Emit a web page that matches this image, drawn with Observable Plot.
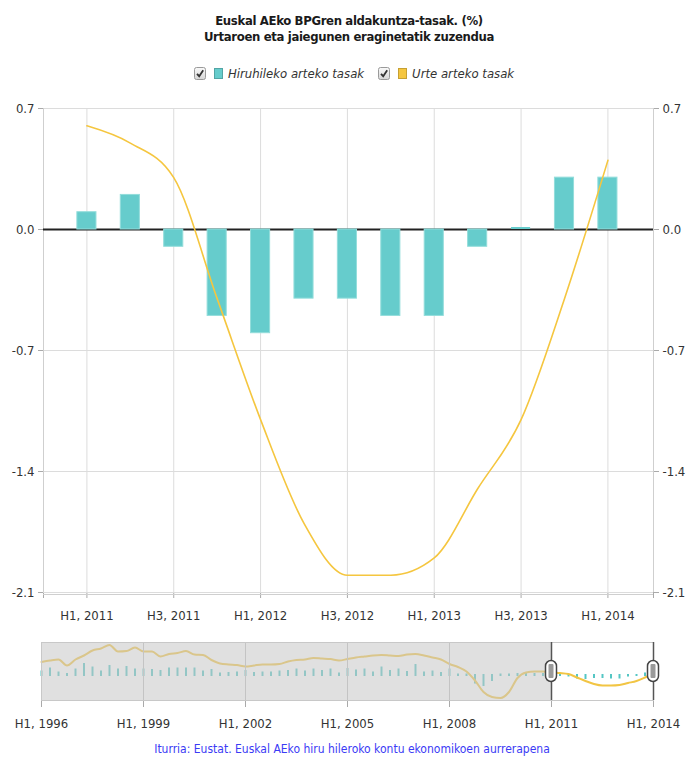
<!DOCTYPE html>
<html>
<head>
<meta charset="utf-8">
<script src="https://cdn.jsdelivr.net/npm/d3@7"></script>
<script src="https://cdn.jsdelivr.net/npm/@observablehq/plot@0.6"></script>
<style>
  html, body { margin: 0; padding: 0; background: #fff; }
  body { width: 688px; height: 758px; overflow: hidden; position: relative;
         font-family: "DejaVu Sans Condensed", "DejaVu Sans", sans-serif; font-stretch: condensed; }
  #header { position: relative; height: 90px; }
  .title { position: absolute; left: 43px; width: 612px; text-align: center; font-weight: bold;
           font-size: 13px; line-height: 16px; color: #1a1a1a; white-space: nowrap; letter-spacing: -0.35px; }
  #legend { position: absolute; top: 66px; left: 0; width: 708px; display: flex; justify-content: center;
            align-items: center; font-size: 13px; font-style: italic; color: #333; }
  .item { display: flex; align-items: center; margin: 0 7px; }
  .cb { margin-right: 8px; }
  .sw { width: 9px; height: 11px; margin-right: 5px; box-sizing: border-box; }
  #main svg, #nav svg { display: block; }
  #caption { position: absolute; top: 742px; left: 43px; width: 618px; text-align: center;
             font-size: 12px; line-height: 14px; color: #3b3bf5; white-space: nowrap; }
  svg [aria-label$="tick"] { stroke: #aaaaaa; }
</style>
</head>
<body>
<div id="header">
  <div class="title" id="t1" style="top:13px"></div>
  <div class="title" id="t2" style="top:29px"></div>
  <div id="legend"></div>
</div>
<div id="main"></div>
<div id="nav"></div>
<div id="caption"></div>
<script>
// ---------- DATA ----------
const titleLines = ["Euskal AEko BPGren aldakuntza-tasak. (%)", "Urtaroen eta jaiegunen eraginetatik zuzendua"];
const seriesNames = ["Hiruhileko arteko tasak", "Urte arteko tasak"];
const seriesColors = ["#66cccc", "#f5c63f"];
const caption = "Iturria: Eustat. Euskal AEko hiru hileroko kontu ekonomikoen aurrerapena";

// Main chart: quarters H1 2011 .. H1 2014
const quarters = ["H1, 2011","H2, 2011","H3, 2011","H4, 2011","H1, 2012","H2, 2012","H3, 2012",
                  "H4, 2012","H1, 2013","H2, 2013","H3, 2013","H4, 2013","H1, 2014"];
const quarterlyRate = [0.1, 0.2, -0.1, -0.5, -0.6, -0.4, -0.4, -0.5, -0.5, -0.1, 0.0, 0.3, 0.3];
const annualRate    = [0.6, 0.5, 0.3, -0.4, -1.1, -1.7, -2.0, -2.0, -1.9, -1.5, -1.1, -0.4, 0.4];
const yTicks = [0.7, 0.0, -0.7, -1.4, -2.1];
const yDomain = [-2.1, 0.7];

// Navigator history: quarters H1 1996 .. H4 2010
const histAnnual = [2.7, 3.0, 3.2, 2.0, 3.2, 4.0, 5.0, 5.4, 6.1, 4.8, 4.9, 5.6,
                    4.8, 4.8, 3.8, 4.3, 4.5, 4.9, 4.2, 4.1, 3.1, 2.4, 2.2, 2.1,
                    1.8, 2.0, 2.2, 2.2, 2.3, 2.8, 3.1, 3.2, 3.5, 3.4, 3.3, 3.0,
                    3.3, 3.6, 3.8, 4.0, 4.1, 4.0, 3.9, 4.2, 4.3, 4.0, 3.6, 3.2,
                    2.3, 1.7, 0.8, -1.0, -3.3, -4.3, -4.5, -3.3, -0.5, 0.6, 0.8, 0.8];
const histQuarterly = [0.7, 1.3, 0.5, 0.2, 1.1, 2.2, 1.5, 0.7, 1.8, 1.1, 1.6, 1.1,
                       1.1, 1.0, 0.8, 1.3, 1.3, 1.3, 1.3, 0.7, 1.0, 0.3, 0.4, 0.5,
                       0.8, 0.4, 0.5, 0.5, 0.7, 0.8, 1.1, 0.7, 1.1, 0.8, 1.1, 0.3,
                       1.2, 0.9, 1.1, 0.5, 1.5, 0.8, 1.1, 0.6, 2.0, 0.5, 0.7, 0.4,
                       1.1, 0.1, 0.1, -1.5, -2.0, -1.0, 0.1, 0.1, 0.2, 0.2, 0.2, 0.2];
const navTickLabels = ["H1, 1996","H1, 1999","H1, 2002","H1, 2005","H1, 2008","H1, 2011","H1, 2014"];
const navYDomain = [-5, 6.6];

// ---------- HEADER ----------
document.getElementById("t1").textContent = titleLines[0];
document.getElementById("t2").textContent = titleLines[1];
const legend = document.getElementById("legend");
seriesNames.forEach((name, k) => {
  const it = document.createElement("div");
  it.className = "item";
  it.innerHTML =
    `<svg class="cb" width="12" height="13" viewBox="0 0 12 13">
       <defs><linearGradient id="g${k}" x1="0" y1="0" x2="0" y2="1">
         <stop offset="0" stop-color="#fafafa"/><stop offset="1" stop-color="#d6d6d6"/></linearGradient></defs>
       <rect x="0.5" y="0.5" width="11" height="12" rx="2" fill="url(#g${k})" stroke="#9a9a9a"/>
       <path d="M3 6.8 L5.2 9.2 L9.2 3.3" fill="none" stroke="#333" stroke-width="1.8"/>
     </svg>
     <div class="sw" style="background:${seriesColors[k]};border:1px solid ${d3.color(seriesColors[k]).darker(0.6)}"></div>
     <span>${name}</span>`;
  legend.appendChild(it);
});
document.getElementById("caption").textContent = caption;

// ---------- MAIN CHART ----------
const data = quarters.map((q, i) => ({i, label: q, q: quarterlyRate[i], a: annualRate[i]}));
const labelIdx = d3.range(0, quarters.length, 2);
const font = '"DejaVu Sans Condensed", "DejaVu Sans", sans-serif';

const main = Plot.plot({
  width: 688, height: 540,
  marginTop: 18, marginBottom: 38, marginLeft: 43, marginRight: 35,
  style: {fontFamily: font, fontSize: "13px", color: "#333", background: "transparent", overflow: "visible"},
  x: {domain: [-1, quarters.length + 0.05], ticks: [-1, ...labelIdx, quarters.length + 0.05],
      tickFormat: i => quarters[i] ?? "", tickSize: 6, tickPadding: 12, label: null},
  y: {domain: yDomain, axis: "both", ticks: yTicks, tickFormat: d => d.toFixed(1),
      tickSize: 5, tickPadding: 4, label: null},
  marks: [
    Plot.ruleY(yTicks, {stroke: "#dcdcdc"}),
    Plot.ruleX(labelIdx, {stroke: "#dcdcdc"}),
    Plot.ruleX([-1, quarters.length + 0.05], {stroke: "#cfcfcf"}),
    Plot.ruleY([yDomain[0]], {stroke: "#cfcfcf", dy: 2}),
    Plot.ruleY([0], {stroke: "#222", strokeWidth: 2}),
    Plot.rectY(data, {x1: d => d.i - 0.22, x2: d => d.i + 0.22, y1: 0, y2: "q",
                      fill: seriesColors[0], stroke: "#93dddb", strokeWidth: 1,
                      dy: d => (d.q > 0 ? -1 : 1)}),
    // bars whose value is exactly zero still show as a thin strip on the zero line
    Plot.ruleY(data.filter(d => d.q === 0), {x1: d => d.i - 0.22, x2: d => d.i + 0.22, y: "q",
                      stroke: seriesColors[0], strokeWidth: 2, dy: -1.5}),
    Plot.line(data, {x: "i", y: "a", stroke: seriesColors[1], strokeWidth: 1.6, curve: "monotone-x"})
  ]
});
document.getElementById("main").appendChild(main);

// ---------- NAVIGATOR ----------
const navAnnual = histAnnual.concat(annualRate);
const navQuarterly = histQuarterly.concat(quarterlyRate);
const navData = navAnnual.map((a, i) => ({i, a, q: navQuarterly[i]}));
const nLast = navData.length - 1;
const selStart = histAnnual.length;           // H1, 2011
const navTickIdx = navTickLabels.map((_, k) => k * 12);

const handles = (index, scales, values, dims) => {
  const g = d3.create("svg:g");
  const cy = (dims.marginTop + dims.height - dims.marginBottom) / 2;
  [selStart, nLast].forEach(v => {
    const cx = scales.x(v);
    g.append("rect").attr("x", cx - 5.5).attr("y", cy - 10.5).attr("width", 11).attr("height", 21)
      .attr("rx", 5.5).attr("fill", "#fff").attr("stroke", "#444").attr("stroke-width", 1.5);
    g.append("rect").attr("x", cx - 2.5).attr("y", cy - 7).attr("width", 5).attr("height", 14)
      .attr("rx", 1).attr("fill", "#9a9a9a");
  });
  return g.node();
};

const nav = Plot.plot({
  width: 688, height: 105,
  marginTop: 12, marginBottom: 35, marginLeft: 41, marginRight: 35,
  style: {fontFamily: font, fontSize: "13px", color: "#333", background: "transparent", overflow: "visible"},
  x: {domain: [0, nLast], ticks: navTickIdx, tickFormat: i => navTickLabels[i / 12],
      tickSize: 7, tickPadding: 11, label: null},
  y: {domain: navYDomain, axis: null},
  marks: [
    Plot.ruleX(navData, {x: "i", y1: 0, y2: "q", stroke: "#55c6c4", strokeWidth: 2, strokeLinecap: "square"}),
    Plot.line(navData, {x: "i", y: "a", stroke: "#f2c544", strokeWidth: 2, curve: "monotone-x"}),
    Plot.rect([0], {x1: () => 0, x2: () => selStart, fill: "#c6c6c6", fillOpacity: 0.55}),
    Plot.ruleX(navTickIdx.filter(t => t > 0 && t < selStart), {stroke: "#c4c4c4"}),
    Plot.frame({stroke: "#c8c8c8"}),
    Plot.ruleX([selStart, nLast], {stroke: "#555", strokeWidth: 1.5}),
    handles
  ]
});
document.getElementById("nav").appendChild(nav);
</script>
</body>
</html>
